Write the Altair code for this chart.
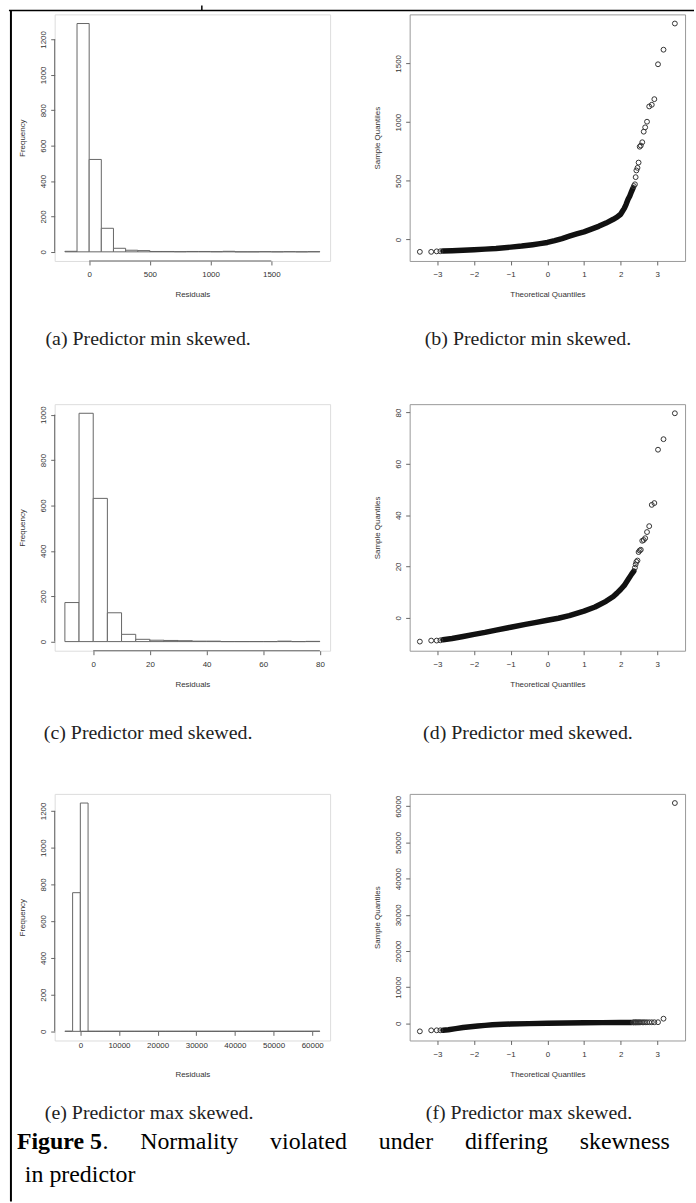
import altair as alt
import pandas as pd

W, H = 277, 248
SANS = "Liberation Sans"
SERIF = "Liberation Serif"
BAR = "#666666"
AXC = "#666666"
TXT = "#333333"

# ---------------- data ----------------
# (a) histogram, residuals, predictor min skewed
a_starts = [-200, -100, 0, 100, 200, 300, 400, 500, 600, 700, 800, 900, 1000,
            1100, 1200, 1300, 1400, 1500, 1600, 1700, 1800]
a_counts = [3, 1290, 522, 133, 20, 9, 7, 2, 2, 1, 2, 2, 1, 3, 0, 0, 1, 0, 1, 0, 1]
a_width = 100
a_xticks = [0, 500, 1000, 1500]
a_yticks = [0, 200, 400, 600, 800, 1000, 1200]

# (c) histogram, predictor med skewed
c_starts = [-10, -5, 0, 5, 10, 15, 20, 25, 30, 35, 40, 45, 50, 55, 60, 65, 70, 75]
c_counts = [172, 1006, 631, 127, 32, 10, 6, 5, 4, 2, 2, 0, 0, 0, 0, 2, 0, 1]
c_width = 5
c_xticks = [0, 20, 40, 60, 80]
c_yticks = [0, 200, 400, 600, 800, 1000]

# (e) histogram, predictor max skewed
e_starts = [-4000, -2000, 0, 2000, 4000, 6000, 8000, 10000, 12000, 14000, 16000,
            18000, 20000, 22000, 24000, 26000, 28000, 30000, 32000, 34000, 36000,
            38000, 40000, 42000, 44000, 46000, 48000, 50000, 52000, 54000, 56000,
            58000, 60000]
e_counts = [1, 755, 1243, 0, 0, 0, 0, 0, 0, 0, 0, 0, 0, 0, 0, 0, 0, 0, 0, 0, 0,
            0, 0, 0, 0, 0, 0, 0, 0, 0, 0, 0, 1]
e_width = 2000
e_xticks = [0, 10000, 20000, 30000, 40000, 50000, 60000]
e_yticks = [0, 200, 400, 600, 800, 1000, 1200]

qq_xticks = [-3, -2, -1, 0, 1, 2, 3]

# (b) normal QQ, predictor min skewed
b_band_tq = [-2.85, -2.6, -2.3, -2.0, -1.7, -1.4, -1.0, -0.7, -0.4, -0.2, 0.0, 0.2,
             0.4, 0.6, 0.8, 1.0, 1.2, 1.4, 1.6, 1.8, 1.9, 2.0, 2.05, 2.1, 2.15, 2.2,
             2.25, 2.3, 2.34]
b_band_sq = [-98, -95, -91, -87, -82, -76, -65, -56, -44, -35, -25, -10, 8, 28, 47,
             65, 88, 112, 140, 172, 190, 215, 240, 265, 300, 340, 370, 410, 440]
b_pts_tq = [-3.48, -3.17, -3.02, -2.92, 2.36, 2.39, 2.41, 2.43, 2.46, 2.49, 2.52,
            2.55, 2.59, 2.63, 2.67, 2.72, 2.78, 2.85, 2.92, 3.02, 3.17, 3.48]
b_pts_sq = [-105, -105, -101, -100, 455, 470, 531, 588, 610, 655, 790, 800, 828,
            918, 955, 1003, 1133, 1147, 1195, 1492, 1616, 1839]
b_yticks = [0, 500, 1000, 1500]

# (d) normal QQ, predictor med skewed
d_band_tq = [-2.85, -2.6, -2.3, -2.0, -1.7, -1.4, -1.0, -0.6, -0.3, 0.0, 0.3, 0.6,
             1.0, 1.3, 1.6, 1.8, 1.9, 2.0, 2.1, 2.2, 2.3, 2.36]
d_band_sq = [-8.6, -8.1, -7.3, -6.5, -5.7, -4.8, -3.7, -2.6, -1.8, -1.0, -0.2, 0.8,
             2.6, 4.2, 6.4, 8.3, 9.6, 11.0, 12.6, 14.8, 17.0, 18.2]
d_pts_tq = [-3.48, -3.17, -3.02, -2.92, 2.39, 2.41, 2.43, 2.46, 2.49, 2.52, 2.55,
            2.59, 2.63, 2.67, 2.72, 2.78, 2.85, 2.92, 3.02, 3.17, 3.48]
d_pts_sq = [-9.3, -8.9, -8.9, -8.8, 19.5, 20.8, 21.8, 22.3, 25.6, 26.2, 26.5, 30.0,
            30.3, 31.0, 33.4, 35.7, 44.0, 44.7, 65.5, 69.6, 79.7]
d_yticks = [0, 20, 40, 60, 80]

# (f) normal QQ, predictor max skewed
f_band_tq = [-2.85, -2.7, -2.5, -2.3, -2.1, -1.9, -1.7, -1.5, -1.2, -1.0, -0.5, 0.0,
             0.5, 1.0, 1.5, 2.0, 2.3]
f_band_sq = [-1880, -1750, -1450, -1150, -930, -720, -550, -400, -250, -180, -60, 30,
             100, 160, 210, 250, 270]
f_pts_tq = [-3.48, -3.17, -3.02, -2.92, 2.34, 2.36, 2.39, 2.41, 2.43, 2.46, 2.49,
            2.52, 2.55, 2.59, 2.63, 2.67, 2.72, 2.78, 2.85, 2.92, 3.02, 3.17, 3.48]
f_pts_sq = [-2200, -1920, -1910, -1900, 275, 278, 280, 282, 284, 287, 290, 292, 295,
            298, 300, 302, 305, 308, 312, 318, 330, 1300, 60900]
f_yticks = [0, 10000, 20000, 30000, 40000, 50000, 60000]

captions = ["(a) Predictor min skewed.", "(b) Predictor min skewed.",
            "(c) Predictor med skewed.", "(d) Predictor med skewed.",
            "(e) Predictor max skewed.", "(f) Predictor max skewed."]
GAP = "\u2003 \u200a"  # stretched inter-word space of the justified caption line
fig_bold = "Figure 5"
fig_rest = "." + GAP + GAP.join(["Normality", "violated", "under", "differing", "skewness"])
fig_line2 = "in predictor"

# ---------------- helpers ----------------
def xaxis_opts(title_y=34, offset=0):
    d = dict(domain=False, grid=False, ticks=True, tickSize=4, tickColor=AXC,
             labelFont=SANS, labelFontSize=8, labelColor=TXT, labelPadding=6,
             labelAngle=0, labelFlush=False, labelOverlap=False, format="d",
             titleFont=SANS, titleFontSize=8, titleFontWeight="normal", titleColor=TXT,
             titleX=W / 2, titleY=title_y, titleAlign="center", titleBaseline="middle")
    if offset:
        d["offset"] = offset
    return d


YAX = dict(domain=False, grid=False, ticks=True, tickSize=4, tickColor=AXC,
           labelFont=SANS, labelFontSize=8, labelColor=TXT, labelPadding=3,
           labelAngle=270, labelAlign="center", labelBaseline="bottom",
           labelFlush=False, labelOverlap=False, format="d",
           titleFont=SANS, titleFontSize=8, titleFontWeight="normal", titleColor=TXT,
           titleAngle=270, titleX=-32, titleY=H / 2, titleAlign="center",
           titleBaseline="middle")


def one():
    return pd.DataFrame({"k": [0]})


def caption_layer(text, x, y):
    return alt.Chart(pd.DataFrame({"t": [text]})).mark_text(
        font=SERIF, fontSize=20, color="#222222", align="center", baseline="middle"
    ).encode(text="t:N", x=alt.value(x), y=alt.value(y))


def hist_panel(starts, width, counts, xticks, yticks, axis_at_zero=False):
    ends = [s + width for s in starts]
    df = pd.DataFrame({"x0": starts, "x1": ends, "n": counts, "base": [0] * len(starts)})
    lo, hi = starts[0], ends[-1]
    pad = 0.04 * (hi - lo)
    top = max(counts)
    xs = alt.Scale(domain=[lo - pad, hi + pad], nice=False, zero=False)
    ys = alt.Scale(domain=[-0.04 * top, 1.04 * top], nice=False, zero=False)
    if axis_at_zero:
        shift = H * 0.04 / 1.08
        xopts = xaxis_opts(title_y=34 + shift, offset=-shift)
        xline_y = alt.datum(0)
    else:
        xopts = xaxis_opts()
        xline_y = alt.value(H)
    bars = alt.Chart(df).mark_rect(fill="white", stroke=BAR, strokeWidth=1).encode(
        x=alt.X("x0:Q", scale=xs, axis=alt.Axis(values=xticks, title="Residuals", **xopts)),
        x2="x1:Q",
        y=alt.Y("n:Q", scale=ys, axis=alt.Axis(values=yticks, title="Frequency", **YAX)),
        y2="base:Q",
    )
    xline = alt.Chart(pd.DataFrame({"x0": [xticks[0]], "x1": [xticks[-1]]})).mark_rule(
        color=AXC, strokeWidth=1).encode(x="x0:Q", x2="x1:Q", y=xline_y)
    yline = alt.Chart(pd.DataFrame({"n": [yticks[0]], "base": [yticks[-1]]})).mark_rule(
        color=AXC, strokeWidth=1).encode(y="n:Q", y2="base:Q", x=alt.value(0))
    return [bars, xline, yline]


def qq_panel(band_tq, band_sq, pts_tq, pts_sq, yticks):
    lo = min(pts_sq + band_sq)
    hi = max(pts_sq + band_sq)
    pad = 0.04 * (hi - lo)
    xlo, xhi = min(pts_tq), max(pts_tq)
    xpad = 0.04 * (xhi - xlo)
    xs = alt.Scale(domain=[xlo - xpad, xhi + xpad], nice=False, zero=False)
    ys = alt.Scale(domain=[lo - pad, hi + pad], nice=False, zero=False)
    xa = alt.Axis(values=qq_xticks, title="Theoretical Quantiles", **xaxis_opts())
    ya = alt.Axis(values=yticks, title="Sample Quantiles", **YAX)
    band = alt.Chart(pd.DataFrame({"tq": band_tq, "sq": band_sq})).mark_line(
        color="#111111", strokeWidth=5.5, strokeCap="round", strokeJoin="round"
    ).encode(x=alt.X("tq:Q", scale=xs, axis=xa), y=alt.Y("sq:Q", scale=ys, axis=ya))
    pts = alt.Chart(pd.DataFrame({"tq": pts_tq, "sq": pts_sq})).mark_point(
        shape="circle", filled=False, color="#333333", size=24, strokeWidth=1, opacity=1
    ).encode(x=alt.X("tq:Q", scale=xs, axis=xa), y=alt.Y("sq:Q", scale=ys, axis=ya))
    return [band, pts]


# border of the page (drawn in panel (a) coordinates)
border = [
    alt.Chart(one()).mark_rule(color="black", strokeWidth=2).encode(
        x=alt.value(-44), y=alt.value(-4), y2=alt.value(1194)),
    alt.Chart(one()).mark_rule(color="black", strokeWidth=1.5).encode(
        x=alt.value(-46), x2=alt.value(643), y=alt.value(-4)),
    alt.Chart(one()).mark_rule(color="black", strokeWidth=1.5).encode(
        x=alt.value(148), y=alt.value(-9), y2=alt.value(-4)),
]

pa = alt.layer(*hist_panel(a_starts, a_width, a_counts, a_xticks, a_yticks),
               caption_layer(captions[0], 94, 327), *border).properties(width=W, height=H)
pb = alt.layer(*qq_panel(b_band_tq, b_band_sq, b_pts_tq, b_pts_sq, b_yticks),
               caption_layer(captions[1], 119, 327)).properties(
    width=W, height=H, view=alt.ViewBackground(stroke="#999999", strokeWidth=1))
pc = alt.layer(*hist_panel(c_starts, c_width, c_counts, c_xticks, c_yticks),
               caption_layer(captions[2], 94, 331)).properties(width=W, height=H)
pdd = alt.layer(*qq_panel(d_band_tq, d_band_sq, d_pts_tq, d_pts_sq, d_yticks),
                caption_layer(captions[3], 119, 331)).properties(
    width=W, height=H, view=alt.ViewBackground(stroke="#999999", strokeWidth=1))

fig_layers = [
    alt.Chart(pd.DataFrame({"t": [fig_bold]})).mark_text(
        font=SERIF, fontSize=24, fontWeight="bold", color="black", align="left",
        baseline="middle").encode(text="t:N", x=alt.value(-38), y=alt.value(350)),
    alt.Chart(pd.DataFrame({"t": [fig_rest]})).mark_text(
        font=SERIF, fontSize=24, color="black", align="left",
        baseline="middle").encode(text="t:N", x=alt.value(48), y=alt.value(350)),
    alt.Chart(pd.DataFrame({"t": [fig_line2]})).mark_text(
        font=SERIF, fontSize=24, color="black", align="left",
        baseline="middle").encode(text="t:N", x=alt.value(-30), y=alt.value(383)),
]

pe = alt.layer(*hist_panel(e_starts, e_width, e_counts, e_xticks, e_yticks, axis_at_zero=True),
               caption_layer(captions[4], 95, 321), *fig_layers).properties(width=W, height=H)
pf = alt.layer(*qq_panel(f_band_tq, f_band_sq, f_pts_tq, f_pts_sq, f_yticks),
               caption_layer(captions[5], 120, 321)).properties(
    width=W, height=H, view=alt.ViewBackground(stroke="#999999", strokeWidth=1))

chart = alt.concat(pa, pb, pc, pdd, pe, pf, columns=2,
                   spacing={"row": 144, "column": 80}, bounds="flush").properties(
    padding={"left": 7, "top": 0, "right": 0, "bottom": 0}
).configure_view(strokeWidth=0).configure(background="white")

chart.save("out.html", embed_options={"renderer": "svg", "actions": False})
